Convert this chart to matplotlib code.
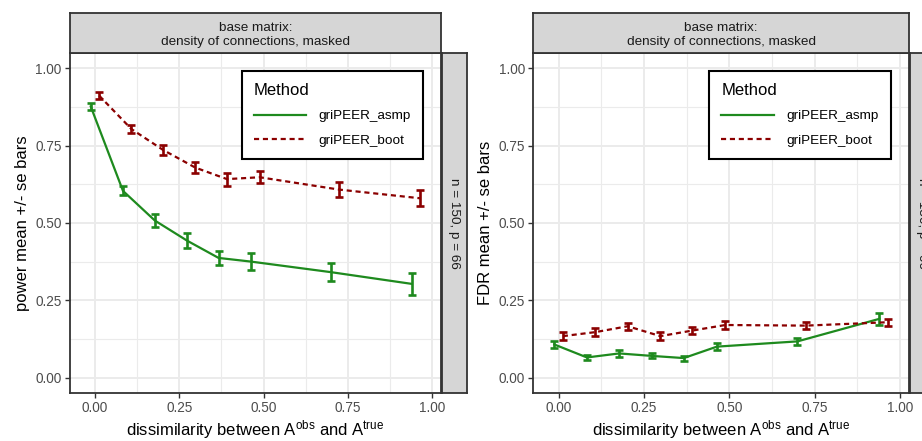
import matplotlib.pyplot as plt
from matplotlib.lines import Line2D

plt.rcParams['font.family'] = ['Liberation Sans', 'DejaVu Sans']
plt.rcParams['mathtext.fontset'] = 'custom'
plt.rcParams['mathtext.rm'] = 'Liberation Sans'
plt.rcParams['mathtext.it'] = 'Liberation Sans:italic'

# data
dissim = [0.0, 0.0955, 0.19, 0.2855, 0.379, 0.476, 0.712, 0.952]
methods = ['griPEER_asmp', 'griPEER_boot']

power_asmp = [0.877, 0.604, 0.508, 0.443, 0.387, 0.375, 0.341, 0.303]
power_asmp_se = [0.012, 0.015, 0.02, 0.024, 0.024, 0.027, 0.03, 0.035]
power_boot = [0.912, 0.804, 0.736, 0.679, 0.642, 0.648, 0.608, 0.580]
power_boot_se = [0.011, 0.012, 0.016, 0.018, 0.021, 0.02, 0.024, 0.026]

fdr_asmp = [0.107, 0.065, 0.078, 0.070, 0.063, 0.100, 0.117, 0.190]
fdr_asmp_se = [0.012, 0.008, 0.012, 0.008, 0.008, 0.012, 0.012, 0.02]
fdr_boot = [0.134, 0.147, 0.166, 0.134, 0.152, 0.170, 0.168, 0.179]
fdr_boot_se = [0.014, 0.012, 0.012, 0.012, 0.012, 0.012, 0.012, 0.012]

strip_top = 'base matrix:\ndensity of connections, masked'
strip_right = 'n = 150, p = 66'
xlab = r'dissimilarity between A$^{\mathrm{obs}}$ and A$^{\mathrm{true}}$'

GREEN = '#1E8A1E'
RED = '#8B0000'
DARK = '#333333'
GRID = '#EBEBEB'
STRIP = '#D6D6D6'

W, H = 922, 441
fig = plt.figure(figsize=(W / 100, H / 100), dpi=100)


def box(x0, y0, x1, y1):
    return [x0 / W, 1 - y1 / H, (x1 - x0) / W, (y1 - y0) / H]


def strip(rect, text, rot, ty=0.5):
    s = fig.add_axes(rect)
    s.set_facecolor(STRIP)
    s.set_xticks([])
    s.set_yticks([])
    for sp in s.spines.values():
        sp.set_color(DARK)
        sp.set_linewidth(1.3)
    s.text(0.5, ty, text, rotation=rot, ha='center', va='center',
           fontsize=9.7, color='#1A1A1A', linespacing=1.3,
           transform=s.transAxes)


def panel(x0, x1, asmp, asmp_se, boot, boot_se, ylab):
    ax = fig.add_axes(box(x0, 53, x1, 393))
    strip(box(x0, 13, x1, 53), strip_top, 0, ty=0.45)
    strip(box(x1 + 0.7, 53, x1 + 25.7, 393), strip_right, 270)

    dodge = 0.0125
    xa = [d - dodge for d in dissim]
    xb = [d + dodge for d in dissim]
    ax.errorbar(xa, asmp, yerr=asmp_se, color=GREEN, lw=1.6,
                elinewidth=1.9, capsize=3, capthick=1.9)
    ax.errorbar(xb, boot, yerr=boot_se, color=RED, lw=1.6,
                elinewidth=1.9, capsize=3, capthick=1.9, dashes=(2.3, 1.7))

    ax.set_xlim(-0.074, 1.026)
    ax.set_ylim(-0.05, 1.05)
    ticks = [0, 0.25, 0.5, 0.75, 1.0]
    ax.set_xticks(ticks)
    ax.set_yticks(ticks)
    ax.set_xticklabels(['%.2f' % t for t in ticks])
    ax.set_yticklabels(['%.2f' % t for t in ticks])
    ax.set_xticks([0.125, 0.375, 0.625, 0.875], minor=True)
    ax.set_yticks([0.125, 0.375, 0.625, 0.875], minor=True)
    ax.grid(True, which='major', color=GRID, lw=1.4)
    ax.grid(True, which='minor', color=GRID, lw=0.8)
    ax.set_axisbelow(True)
    ax.tick_params(which='major', length=3.5, width=1.0, color=DARK,
                   labelsize=9.8, labelcolor='#4D4D4D', pad=2.5)
    ax.tick_params(which='minor', length=0)
    for sp in ax.spines.values():
        sp.set_color(DARK)
        sp.set_linewidth(1.3)

    ax.set_xlabel(xlab, fontsize=12, labelpad=2)
    ax.set_ylabel(ylab, fontsize=12, labelpad=4)

    handles = [Line2D([], [], color=GREEN, lw=1.6),
               Line2D([], [], color=RED, lw=1.6, dashes=(2.3, 1.7))]
    leg = ax.legend(handles, methods, title='Method', loc='upper right',
                    bbox_to_anchor=(0.951, 0.948), fontsize=9.7,
                    title_fontsize=12, alignment='left', fancybox=False,
                    framealpha=1, edgecolor='black', borderaxespad=0,
                    borderpad=0.9, handlelength=3.9, handletextpad=0.9,
                    labelspacing=0.9)
    leg.get_frame().set_linewidth(1.5)
    return ax


panel(70, 441, power_asmp, power_asmp_se, power_boot, power_boot_se,
      'power mean +/- se bars')
panel(533.3, 909, fdr_asmp, fdr_asmp_se, fdr_boot, fdr_boot_se,
      'FDR mean +/- se bars')

fig.savefig('out.png', dpi=100)
